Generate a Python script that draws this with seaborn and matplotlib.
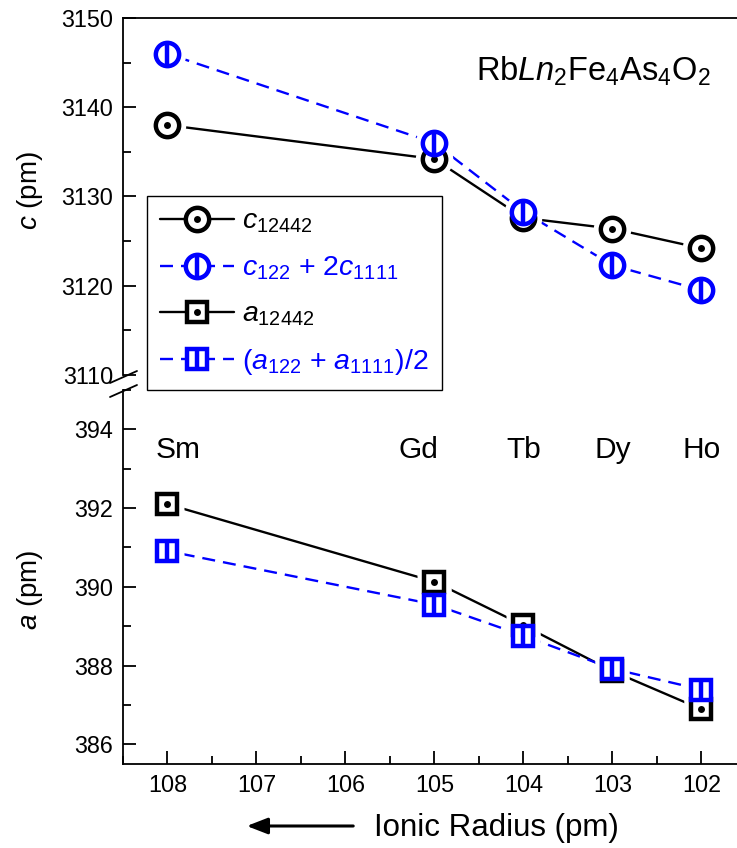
import matplotlib
matplotlib.use("Agg")
import matplotlib.pyplot as plt
import seaborn as sns
import numpy as np
import pandas as pd
from matplotlib.lines import Line2D
from matplotlib.ticker import MultipleLocator

# ---------------- data ----------------
radius = [108, 105, 104, 103, 102]
elements = ["Sm", "Gd", "Tb", "Dy", "Ho"]
c_12442 = [3138.0, 3134.2, 3127.6, 3126.4, 3124.2]
c_sum = [3146.0, 3136.0, 3128.3, 3122.3, 3119.5]
a_12442 = [392.10, 390.13, 389.02, 387.86, 386.89]
a_avg = [390.91, 389.55, 388.76, 387.92, 387.39]
c_ticks = [3110, 3120, 3130, 3140, 3150]
a_ticks = [386, 388, 390, 392, 394]
x_ticks = [108, 107, 106, 105, 104, 103, 102]
label_x = [107.88, 105.18, 104.0, 103.0, 102.0]

# ---------------- style ----------------
sns.set_theme(style="ticks")
plt.rcParams["font.family"] = ["Liberation Sans", "DejaVu Sans"]
plt.rcParams["mathtext.fontset"] = "custom"
plt.rcParams["mathtext.rm"] = "Liberation Sans"
plt.rcParams["mathtext.it"] = "Liberation Sans:italic"
plt.rcParams["mathtext.bf"] = "Liberation Sans:bold"
plt.rcParams["text.color"] = "black"
plt.rcParams["axes.labelcolor"] = "black"
plt.rcParams["xtick.color"] = "black"
plt.rcParams["ytick.color"] = "black"

BLACK = "#000000"
BLUE = "#0000FF"
W, H = 737, 848

def fx(px):
    return px / W

def fy(py):
    return 1 - py / H

fig = plt.figure(figsize=(W / 100, H / 100), dpi=100)
ax_t = fig.add_axes([fx(123), fy(375), 1 - fx(123), fy(18) - fy(375)])
ax_b = fig.add_axes([fx(123), fy(764), 1 - fx(123), fy(390) - fy(764)])

LW = 1.7
DASH = (0, (5.5, 3.4))
MS_C = 16.8
MS_S = 14.0
MEW = 3.2
DOT = 5.0


def draw(ax, y, color, dashed, shape, inner, z):
    ms = MS_C if shape == "o" else MS_S
    sns.lineplot(x=radius, y=y, ax=ax, color=color, lw=LW, errorbar=None,
                 linestyle=DASH if dashed else "-", zorder=1)
    # white halo to create the gap between line and marker
    ax.plot(radius, y, ls="none", marker=shape, ms=ms + MEW + 7, mfc="white",
            mec="none", zorder=2, clip_on=False)
    ax.plot(radius, y, ls="none", marker=shape, ms=ms, mfc="white", mec=color,
            mew=MEW, zorder=z, clip_on=False)
    if inner == "dot":
        ax.plot(radius, y, ls="none", marker="o", ms=DOT, mfc=color, mec=color,
                mew=0, zorder=z + 0.1, clip_on=False)
    else:
        ax.plot(radius, y, ls="none", marker="|", ms=ms, mec=color, mew=MEW,
                zorder=z + 0.1, clip_on=False)


draw(ax_t, c_12442, BLACK, False, "o", "dot", 3)
draw(ax_t, c_sum, BLUE, True, "o", "bar", 4)
draw(ax_b, a_12442, BLACK, False, "s", "dot", 3)
draw(ax_b, a_avg, BLUE, True, "s", "bar", 4)

for ax in (ax_t, ax_b):
    ax.set_xlim(108.5, 101.6)
    ax.set_facecolor("none")
    ax.spines["right"].set_visible(False)
    for s in ax.spines.values():
        s.set_linewidth(1.3)
        s.set_color("black")
    ax.tick_params(which="major", direction="in", length=9.6, width=1.3,
                   labelsize=16.8, pad=7, colors="black")
    ax.tick_params(which="minor", direction="in", length=5.5, width=1.3)
    ax.set_xlabel("")
    ax.set_ylabel("")

ax_t.set_ylim(3110, 3150)
ax_t.set_yticks(c_ticks)
ax_t.yaxis.set_minor_locator(MultipleLocator(5))
ax_t.spines["bottom"].set_visible(False)
ax_t.set_xticks([])
ax_t.tick_params(axis="x", which="both", bottom=False, labelbottom=False)

ax_b.set_ylim(385.5, 395.0)
ax_b.set_yticks(a_ticks)
ax_b.yaxis.set_minor_locator(MultipleLocator(1))
ax_b.spines["top"].set_visible(False)
ax_b.set_xticks(x_ticks)
ax_b.set_xticklabels([str(v) for v in x_ticks])
ax_b.xaxis.set_minor_locator(MultipleLocator(0.5))

for xl, el in zip(label_x, elements):
    ax_b.text(xl, 393.47, el, ha="center", va="center", fontsize=21.5)

ax_t.text(103.21, 3144.0, r"Rb$\mathit{Ln}_2$Fe$_4$As$_4$O$_2$",
          ha="center", va="center", fontsize=23.5)

# axis labels
fig.text(fx(30), fy(190), r"$c$ (pm)", rotation=90, ha="center", va="center", fontsize=20)
fig.text(fx(30), fy(590), r"$a$ (pm)", rotation=90, ha="center", va="center", fontsize=20)
fig.text(fx(496), fy(828), "Ionic Radius (pm)", ha="center", va="center", fontsize=22.5)
fig.add_artist(matplotlib.patches.FancyArrowPatch(
    (fx(356), fy(826)), (fx(244), fy(826)), transform=fig.transFigure,
    arrowstyle="-|>,head_length=0.9,head_width=0.35", lw=2.2, color="black",
    mutation_scale=14))

# axis break marks
for (x0, y0, x1, y1) in [(110, 383, 137, 371), (110, 397, 137, 385)]:
    fig.add_artist(Line2D([fx(x0), fx(x1)], [fy(y0), fy(y1)],
                          transform=fig.transFigure, color="black", lw=1.3))

# legend
def handle(color, dashed, shape, inner):
    ms = MS_C if shape == "o" else MS_S
    base = Line2D([], [], color=color, lw=LW, linestyle=DASH if dashed else "-",
                  marker=shape, ms=ms, mfc="white", mec=color, mew=MEW)
    if inner == "dot":
        ins = Line2D([], [], ls="none", marker="o", ms=DOT, mfc=color, mec=color, mew=0)
    else:
        ins = Line2D([], [], ls="none", marker="|", ms=ms, mec=color, mew=MEW)
    return (base, ins)

handles = [handle(BLACK, False, "o", "dot"), handle(BLUE, True, "o", "bar"),
           handle(BLACK, False, "s", "dot"), handle(BLUE, True, "s", "bar")]
labels = [r"$c_{12442}$", r"$c_{122}$ + 2$c_{1111}$", r"$a_{12442}$",
          r"($a_{122}$ + $a_{1111}$)/2"]
leg = fig.legend(handles, labels, loc="upper left",
                 bbox_to_anchor=(fx(147), fy(196)), bbox_transform=fig.transFigure,
                 fontsize=20.5, frameon=True, fancybox=False, framealpha=1,
                 edgecolor="black", borderaxespad=0, borderpad=0.45,
                 handlelength=2.6, handletextpad=0.3, labelspacing=0.68)
leg.get_frame().set_linewidth(1.0)
for t, c in zip(leg.get_texts(), [BLACK, BLUE, BLACK, BLUE]):
    t.set_color(c)

fig.savefig("out.png", dpi=100)
